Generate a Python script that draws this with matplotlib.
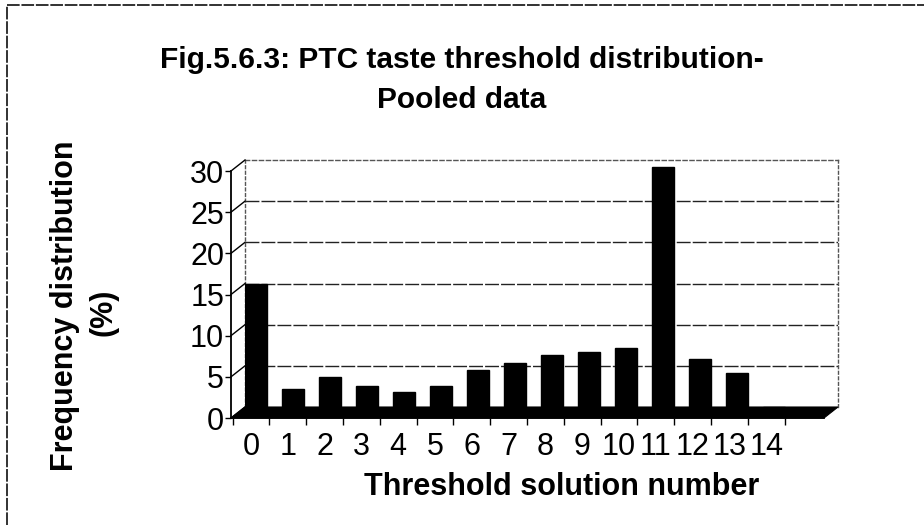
import matplotlib
matplotlib.use("Agg")
import matplotlib.pyplot as plt
from matplotlib.lines import Line2D
from matplotlib.patches import Polygon

categories = ["0", "1", "2", "3", "4", "5", "6", "7", "8", "9", "10", "11", "12", "13", "14"]
values = [15.0, 2.2, 3.7, 2.5, 1.8, 2.6, 4.5, 5.3, 6.3, 6.7, 7.2, 29.2, 5.8, 4.1, 0.0]
yticks = [0, 5, 10, 15, 20, 25, 30]

title_lines = ["Fig.5.6.3: PTC taste threshold distribution-", "Pooled data"]
ylabel_lines = ["Frequency distribution", "(%)"]
xlabel = "Threshold solution number"

plt.rcParams['font.family'] = ['Liberation Sans', 'DejaVu Sans']

W, H = 924, 525
fig = plt.figure(figsize=(W / 100, H / 100), dpi=100)


def rect(l, r, t, b):
    return [l / W, 1 - b / H, (r - l) / W, (b - t) / H]


def fxy(x, y):
    return (x / W, 1 - y / H)


# outer frame (left and top edges visible)
frame_style = dict(color="#222222", lw=1.3, linestyle=(0, (7, 1)))
fig.add_artist(Line2D([7 / W, 7 / W], [0, 1 - 5 / H], **frame_style))
fig.add_artist(Line2D([7 / W, 1], [1 - 5 / H, 1 - 5 / H], **frame_style))

# back wall axes (bars + gridlines)
axb = fig.add_axes(rect(245, 838, 160, 407), zorder=0)
axb.set_xlim(-0.297, 15.73)
axb.set_ylim(0, 30)
x = list(range(len(categories)))
axb.bar(x, values, width=0.57, color="black", edgecolor="black", zorder=3)
for t in yticks[1:-1]:
    axb.axhline(t, color="#222222", lw=1.0, linestyle=(0, (10, 1.5)), zorder=1)
axb.set_xticks([])
axb.set_yticks([])
axb.spines["bottom"].set_visible(False)
axb.spines["top"].set_linestyle((0, (3, 2)))
axb.spines["top"].set_color("#555555")
axb.spines["left"].set_linestyle((0, (2, 2)))
axb.spines["left"].set_color("#555555")
axb.spines["right"].set_linestyle((0, (2, 2)))
axb.spines["right"].set_color("#555555")
for s in ["top", "left", "right"]:
    axb.spines[s].set_linewidth(1.0)

# front axes (axis lines, ticks, labels)
axf = fig.add_axes(rect(231, 824, 171, 418), zorder=3)
axf.patch.set_alpha(0)
axf.set_xlim(-0.543, 15.57)
axf.set_ylim(0, 30)
axf.set_yticks(yticks)
axf.set_yticklabels([str(t) for t in yticks], fontsize=22)
axf.set_xticks(x)
axf.set_xticklabels(categories, fontsize=22)
axf.set_xticks([i - 0.5 for i in range(len(categories) + 1)], minor=True)
axf.tick_params(axis="x", which="major", length=0, pad=10)
axf.tick_params(axis="x", which="minor", length=5, width=1)
axf.tick_params(axis="y", length=4, width=1, pad=1)
for s in ["top", "right"]:
    axf.spines[s].set_visible(False)
axf.spines["left"].set_linewidth(1.3)
axf.spines["bottom"].set_linewidth(1.3)

# 3D depth: floor and side-wall tick connectors, derived from both axes
fig.canvas.draw()
inv = fig.transFigure.inverted()
fx0, fx1 = axf.get_xlim()
bx0, bx1 = axb.get_xlim()
p_fl = inv.transform(axf.transData.transform((fx0, 0)))
p_fr = inv.transform(axf.transData.transform((fx1, 0)))
p_bl = inv.transform(axb.transData.transform((bx0, 0)))
p_br = inv.transform(axb.transData.transform((bx1, 0)))
fig.add_artist(Polygon([p_fl, p_fr, p_br, p_bl], closed=True, facecolor="black",
                       edgecolor="black", lw=0.8, zorder=1))
for t in yticks:
    a = inv.transform(axf.transData.transform((fx0, t)))
    b = inv.transform(axb.transData.transform((bx0, t)))
    fig.add_artist(Line2D([a[0], b[0]], [a[1], b[1]], color="black", lw=1.0, zorder=2))

# texts
fig.text(*fxy(462, 68), title_lines[0], ha="center", va="baseline", fontsize=21.5,
         fontweight="bold")
fig.text(*fxy(462, 108), title_lines[1], ha="center", va="baseline", fontsize=21.5,
         fontweight="bold")
fig.text(*fxy(73, 306), ylabel_lines[0], ha="center", va="baseline", rotation=90,
         rotation_mode="anchor", fontsize=22, fontweight="bold")
fig.text(*fxy(111, 312), ylabel_lines[1], ha="center", va="baseline", rotation=90,
         rotation_mode="anchor", fontsize=22, fontweight="bold")
fig.text(*fxy(562, 495), xlabel, ha="center", va="baseline", fontsize=22,
         fontweight="bold")

fig.savefig("out.png", dpi=100)
